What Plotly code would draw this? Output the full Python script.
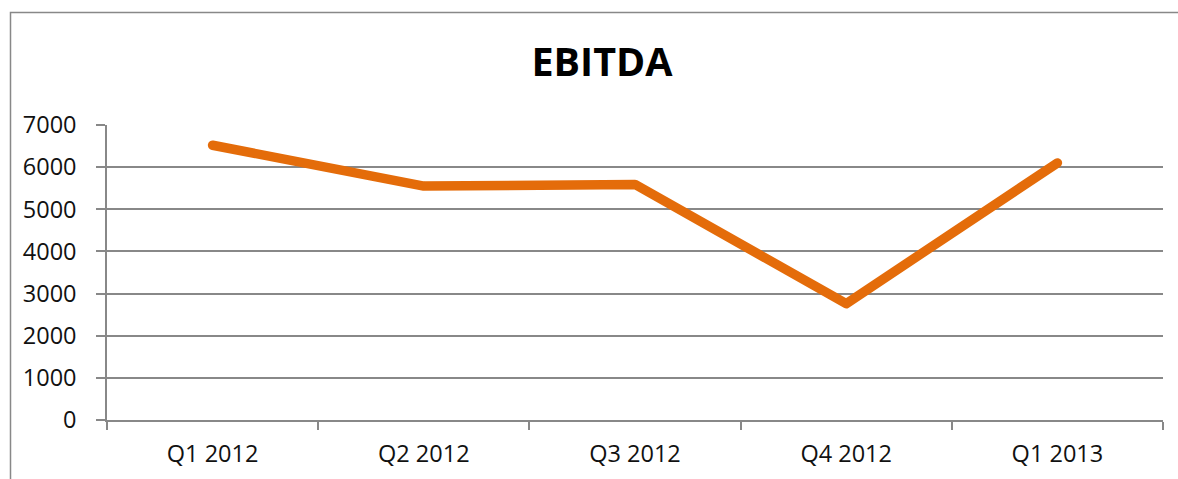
import plotly.graph_objects as go

quarters = ["Q1 2012", "Q2 2012", "Q3 2012", "Q4 2012", "Q1 2013"]
ebitda = [6520, 5550, 5590, 2760, 6100]
y_ticks = [0, 1000, 2000, 3000, 4000, 5000, 6000, 7000]

W, H = 1178, 479
ml, mr, mt, mb = 107, 15, 125, 59
pw, ph = W - ml - mr, H - mt - mb

def px_x(x):
    return (x - ml) / pw

def px_y(y):
    return 1 - (y - mt) / ph

fig = go.Figure()
fig.add_trace(go.Scatter(
    x=quarters, y=ebitda, mode="lines",
    line=dict(color="#E46C0A", width=9.5),
    hoverinfo="x+y",
))

fig.update_layout(
    width=W, height=H,
    margin=dict(l=ml, r=mr, t=mt, b=mb),
    paper_bgcolor="white", plot_bgcolor="white",
    showlegend=False,
    font=dict(family="Open Sans, Noto Sans, sans-serif", size=23.5, color="#111111"),
    title=dict(
        text="<b>EBITDA</b>",
        font=dict(family="Open Sans, Noto Sans, sans-serif", size=39.5, color="#000000"),
        x=602 / W, xanchor="center",
        y=1 - 62.5 / H, yanchor="middle",
    ),
    xaxis=dict(
        type="category", range=[-0.5, 4.5], automargin=False,
        tickson="boundaries", ticks="outside", ticklen=8, tickwidth=1.5,
        tickcolor="#888888", showline=True, linecolor="#888888", linewidth=1.5,
        showgrid=False, zeroline=False, ticklabelstandoff=12,
    ),
    yaxis=dict(
        range=[0, 7000], tickvals=y_ticks, ticktext=[str(v) for v in y_ticks],
        automargin=False,
        ticks="outside", ticklen=9, tickwidth=1.5, tickcolor="#888888",
        showline=True, linecolor="#888888", linewidth=1.5,
        showgrid=True, gridcolor="#888888", gridwidth=1.5,
        zeroline=False, ticklabelstandoff=15,
    ),
    shapes=[dict(
        type="rect", xref="paper", yref="paper",
        x0=px_x(10.5), x1=px_x(W + 20), y0=px_y(H + 20), y1=px_y(12.5),
        line=dict(color="#888888", width=1.5), fillcolor="rgba(0,0,0,0)",
        layer="below",
    )],
)

post = (
    "document.body.style.margin='0';"
    "document.body.style.overflow='hidden';"
    "var s=document.createElement('style');"
    "s.textContent='.scatterlayer .js-line{stroke-linecap:round !important;stroke-linejoin:round !important;}';"
    "document.head.appendChild(s);"
)
fig.write_html("out.html", config={"displayModeBar": False}, post_script=post)
